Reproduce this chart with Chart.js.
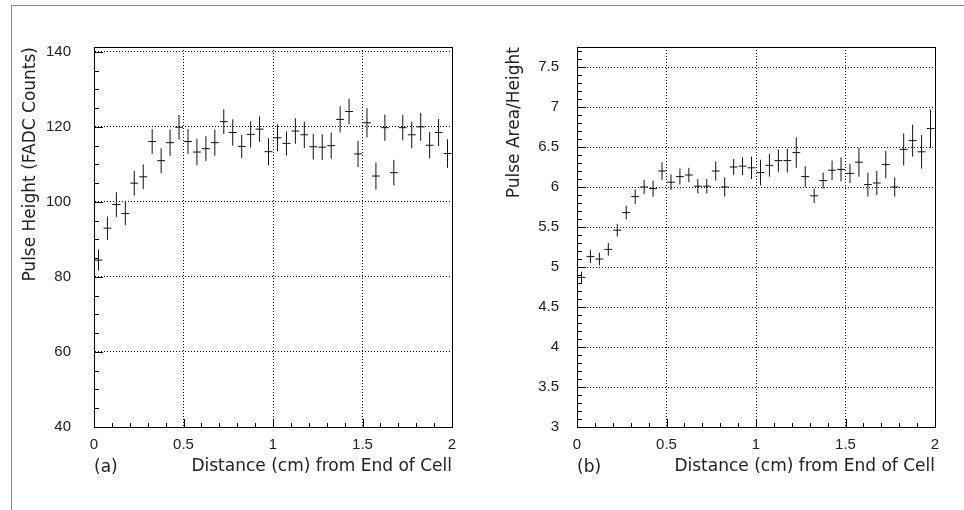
<!DOCTYPE html>
<html>
<head>
<meta charset="utf-8">
<script src="https://cdn.jsdelivr.net/npm/chart.js@4.4.0/dist/chart.umd.min.js"></script>
<style>
  body { margin: 0; background: #fff; }
  #fig { position: relative; width: 964px; height: 510px; overflow: hidden; }
  #frame { position: absolute; left: 11px; top: 5px; right: 0; bottom: 0;
           border-left: 1px solid #8a8a8a; border-top: 1px solid #8a8a8a; }
  canvas { position: absolute; top: 0; }
</style>
</head>
<body>
<div id="fig">
  <div id="frame"></div>
  <canvas id="panelA" width="482" height="510" style="left:0"></canvas>
  <canvas id="panelB" width="482" height="510" style="left:482px"></canvas>
</div>
<script>
// bin centres (cm), 0.05 cm bins
const binCenters = [0.025, 0.075, 0.125, 0.175, 0.225, 0.275, 0.325, 0.375, 0.425, 0.475,
  0.525, 0.575, 0.625, 0.675, 0.725, 0.775, 0.825, 0.875, 0.925, 0.975,
  1.025, 1.075, 1.125, 1.175, 1.225, 1.275, 1.325, 1.375, 1.425, 1.475,
  1.525, 1.575, 1.625, 1.675, 1.725, 1.775, 1.825, 1.875, 1.925, 1.975];

// (a) pulse height, FADC counts
const pulseHeight = [84.5, 93.0, 99.3, 96.9, 105.0, 106.7, 116.1, 111.0, 115.8, 119.9,
  116.1, 113.3, 114.2, 115.8, 121.4, 118.5, 114.8, 118.0, 119.4, 113.4,
  117.1, 115.6, 118.9, 117.9, 114.7, 114.6, 115.0, 122.0, 124.1, 112.8,
  121.1, 106.9, 119.8, 107.8, 119.8, 117.9, 120.0, 115.1, 118.5, 112.9];
const pulseHeightErr = [2.8, 3.1, 3.3, 3.1, 3.3, 3.3, 3.3, 3.3, 3.5, 3.3,
  3.3, 3.5, 3.3, 3.5, 3.3, 3.5, 3.1, 3.5, 3.4, 3.6,
  3.6, 3.2, 3.4, 3.5, 3.4, 3.4, 3.5, 3.5, 3.4, 3.5,
  3.9, 3.6, 3.5, 3.4, 3.4, 3.5, 3.7, 3.5, 3.6, 3.8];

// (b) pulse area / height
const areaOverHeight = [4.87, 5.13, 5.10, 5.22, 5.46, 5.68, 5.88, 6.00, 5.98, 6.20,
  6.06, 6.13, 6.15, 6.01, 6.01, 6.20, 6.00, 6.25, 6.26, 6.24,
  6.18, 6.27, 6.33, 6.33, 6.43, 6.13, 5.89, 6.08, 6.21, 6.22,
  6.17, 6.31, 6.03, 6.05, 6.28, 6.00, 6.47, 6.58, 6.44, 6.73];
const areaOverHeightErr = [0.07, 0.08, 0.08, 0.08, 0.08, 0.085, 0.09, 0.09, 0.10, 0.11,
  0.10, 0.10, 0.09, 0.09, 0.09, 0.12, 0.12, 0.10, 0.11, 0.14,
  0.16, 0.14, 0.14, 0.15, 0.19, 0.13, 0.09, 0.10, 0.12, 0.15,
  0.12, 0.18, 0.15, 0.15, 0.17, 0.12, 0.20, 0.20, 0.21, 0.24];

const xTicks = [0, 0.5, 1, 1.5, 2];
const yTicksA = [40, 60, 80, 100, 120, 140];
const yTicksB = [3, 3.5, 4, 4.5, 5, 5.5, 6, 6.5, 7, 7.5];

const halfBin = 0.022;

// error crosses as broken line segments (null breaks the line)
function crosses(xs, ys, errs) {
  const pts = [];
  xs.forEach((x, i) => {
    pts.push({ x: x, y: ys[i] - errs[i] }, { x: x, y: ys[i] + errs[i] }, { x: x, y: null });
    pts.push({ x: x - halfBin, y: ys[i] }, { x: x + halfBin, y: ys[i] }, { x: x, y: null });
  });
  return pts;
}

// full frame, inner tick marks and the panel letter
const frameAndTicks = {
  id: 'frameAndTicks',
  afterDraw(chart, args, o) {
    const { ctx, chartArea: a, scales: { x, y } } = chart;
    ctx.save();
    ctx.setLineDash([]);
    ctx.strokeStyle = '#000';
    ctx.lineWidth = 1;
    ctx.beginPath();
    for (let k = 0; k <= 20; k++) {
      const px = Math.round(x.getPixelForValue(k * 0.1)) + 0.5;
      const len = k % 5 === 0 ? 8 : 4;
      ctx.moveTo(px, a.bottom);
      ctx.lineTo(px, a.bottom - len);
    }
    const n = Math.round((y.max - y.min) / o.yMinor);
    for (let k = 0; k <= n; k++) {
      const v = y.min + k * o.yMinor;
      if (v > y.max) break;
      const py = Math.round(y.getPixelForValue(v)) + 0.5;
      const len = k % o.perMajor === 0 ? 9 : 5;
      ctx.moveTo(a.left, py);
      ctx.lineTo(a.left + len, py);
    }
    ctx.stroke();
    ctx.strokeRect(Math.round(a.left) + 0.5, Math.round(a.top) + 0.5,
      Math.round(a.right - a.left), Math.round(a.bottom - a.top));
    ctx.font = '17px "DejaVu Sans"';
    ctx.fillStyle = '#222';
    ctx.textBaseline = 'middle';
    ctx.textAlign = 'left';
    ctx.fillText(o.letter, a.left, 468);
    ctx.restore();
  }
};

const tickFont = { family: '"Liberation Sans", Arial, sans-serif', size: 15 };
const titleFont = { family: '"DejaVu Sans", sans-serif', size: 17 };
const plainNumber = v => String(v);

function panel(id, cfg) {
  return new Chart(document.getElementById(id), {
    type: 'scatter',
    data: {
      datasets: [{
        data: crosses(binCenters, cfg.values, cfg.errors),
        showLine: true,
        spanGaps: false,
        borderColor: '#111',
        borderWidth: 1,
        pointRadius: 0,
        pointHoverRadius: 0
      }]
    },
    plugins: [frameAndTicks],
    options: {
      responsive: false,
      animation: false,
      events: [],
      layout: { padding: { left: 0, top: 47, right: cfg.padRight, bottom: 0 } },
      plugins: {
        legend: { display: false },
        tooltip: { enabled: false },
        frameAndTicks: { letter: cfg.letter, yMinor: cfg.yMinor, perMajor: cfg.perMajor }
      },
      scales: {
        x: {
          type: 'linear', min: 0, max: 2,
          afterBuildTicks: s => { s.ticks = xTicks.map(v => ({ value: v })); },
          afterFit: s => { s.height = 83; },
          grid: { color: '#000', lineWidth: 1, drawTicks: false },
          border: { display: true, color: '#000', width: 1, dash: [1, 2] },
          ticks: { color: '#222', font: tickFont, padding: 9, maxRotation: 0, callback: plainNumber },
          title: { display: true, text: 'Distance (cm) from End of Cell', align: 'end',
                   color: '#222', font: titleFont, padding: { top: 0, bottom: 33 } }
        },
        y: {
          type: 'linear', min: cfg.yMin, max: cfg.yMax,
          afterBuildTicks: s => { s.ticks = cfg.yTicks.map(v => ({ value: v })); },
          afterFit: s => { s.width = cfg.yWidth; },
          grid: { color: '#000', lineWidth: 1, drawTicks: false },
          border: { display: true, color: '#000', width: 1, dash: [1, 2] },
          ticks: { color: '#222', font: tickFont, padding: cfg.tickPad, callback: plainNumber },
          title: { display: true, text: cfg.yTitle, align: 'end',
                   color: '#222', font: titleFont, padding: { top: cfg.titlePad, bottom: 0 } }
        }
      }
    }
  });
}

panel('panelA', {
  values: pulseHeight, errors: pulseHeightErr, letter: '(a)',
  yMin: 40, yMax: 141.3, yTicks: yTicksA, yMinor: 5, perMajor: 4,
  yWidth: 94, padRight: 30, tickPad: 23, titlePad: 20,
  yTitle: 'Pulse Height (FADC Counts)'
});

panel('panelB', {
  values: areaOverHeight, errors: areaOverHeightErr, letter: '(b)',
  yMin: 3, yMax: 7.75, yTicks: yTicksB, yMinor: 0.1, perMajor: 5,
  yWidth: 95, padRight: 29, tickPad: 18, titlePad: 22,
  yTitle: 'Pulse Area/Height'
});
</script>
</body>
</html>
